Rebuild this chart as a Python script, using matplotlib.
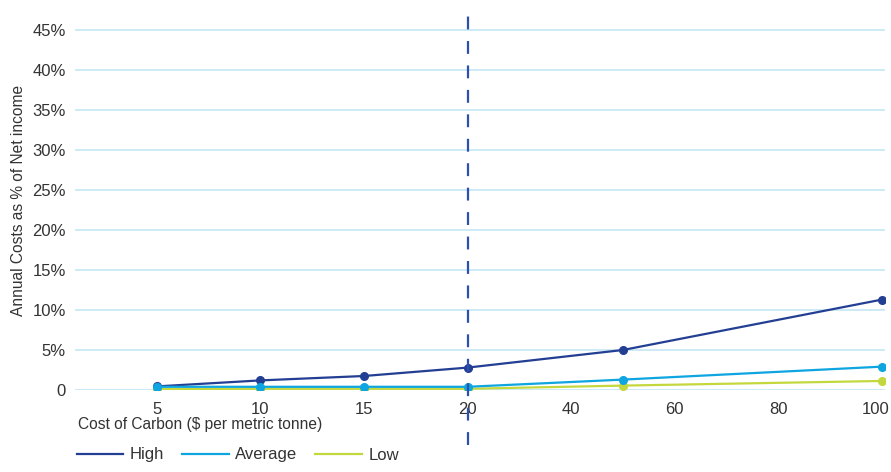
import numpy as np
import matplotlib
matplotlib.use("Agg")
import matplotlib.pyplot as plt
import matplotlib.transforms as mtransforms
from matplotlib.ticker import FixedLocator, FuncFormatter
from matplotlib.lines import Line2D

plt.rcParams['font.family'] = ['Liberation Sans', 'DejaVu Sans']

# Data
carbon_cost = [5, 10, 15, 20, 50, 100]
high = [0.45, 1.2, 1.75, 2.8, 5.0, 11.3]
average = [0.4, 0.4, 0.4, 0.4, 1.3, 2.92]
low = [0.12, 0.15, 0.15, 0.15, 0.55, 1.13]
tick_values = [5, 10, 15, 20, 40, 60, 80, 100]
y_ticks = [0, 5, 10, 15, 20, 25, 30, 35, 40, 45]
series_names = ['High', 'Average', 'Low']
colors = ['#233f94', '#0ea5e0', '#c4d83e']
threshold = 20

tv = np.array(tick_values, dtype=float)
pos = np.arange(len(tv), dtype=float)

def fwd(x):
    x = np.asarray(x, dtype=float)
    out = np.interp(x, tv, pos)
    out = np.where(x < tv[0], (x - tv[0]) / (tv[1] - tv[0]), out)
    out = np.where(x > tv[-1], pos[-1] + (x - tv[-1]) / (tv[-1] - tv[-2]), out)
    return out

def inv(p):
    p = np.asarray(p, dtype=float)
    out = np.interp(p, pos, tv)
    out = np.where(p < 0, tv[0] + p * (tv[1] - tv[0]), out)
    out = np.where(p > pos[-1], tv[-1] + (p - pos[-1]) * (tv[-1] - tv[-2]), out)
    return out

W, H = 891, 472
fig = plt.figure(figsize=(W / 100, H / 100), dpi=100)
ax = fig.add_axes([75 / W, 82 / H, (885 - 75) / W, (462 - 82) / H])
ax.set_xscale('function', functions=(fwd, inv))
ax.set_xlim(inv(-0.79), inv(7.03))
ax.set_ylim(0, 47.5)

for name, vals, c in zip(series_names, [high, average, low], colors):
    ax.plot(carbon_cost, vals, color=c, lw=1.6, marker='o', ms=5.5,
            label=name, zorder=3 if name != 'Low' else 2)

ax.yaxis.set_major_locator(FixedLocator(y_ticks))
ax.yaxis.set_major_formatter(FuncFormatter(lambda v, p: '0' if v == 0 else f'{int(v)}%'))
ax.xaxis.set_major_locator(FixedLocator(tick_values))
ax.xaxis.set_minor_locator(FixedLocator([]))
ax.xaxis.set_major_formatter(FuncFormatter(lambda v, p: f'{int(round(v))}'))
ax.grid(axis='y', color='#c8e8f6', lw=1.3, zorder=0)
ax.grid(axis='x', visible=False)
for s in ax.spines.values():
    s.set_visible(False)
ax.tick_params(axis='both', length=0, labelsize=12, colors='#333333')
ax.tick_params(axis='x', pad=9)
ax.tick_params(axis='y', pad=6.5)

# shift the last x tick label slightly left so it stays inside the figure
fig.canvas.draw()
last = ax.get_xticklabels()[-1]
last.set_transform(last.get_transform() + mtransforms.ScaledTranslation(-6 / 100, 0, fig.dpi_scale_trans))

vl = ax.axvline(threshold, ymin=-0.145, ymax=1.0, color='#2d4fae', lw=1.6,
                clip_on=False, zorder=4)
vl.set_dashes((5.8, 5.2))

ax.set_ylabel('Annual Costs as % of Net income', fontsize=11.2, color='#333333', labelpad=5)

fig.text(78 / W, 1 - 425 / H, 'Cost of Carbon ($ per metric tonne)', fontsize=11.2,
         color='#333333', va='center', ha='left')

lh = [Line2D([], [], color=c, lw=1.6) for c in colors]
leg = fig.legend(lh, series_names, loc='center left', bbox_to_anchor=(70 / W, 1 - 455 / H),
                 ncol=3, frameon=False, fontsize=12, handlelength=2.8,
                 handletextpad=0.4, columnspacing=1.05, borderaxespad=0)
for t in leg.get_texts():
    t.set_color('#333333')

fig.savefig('out.png', dpi=100)
